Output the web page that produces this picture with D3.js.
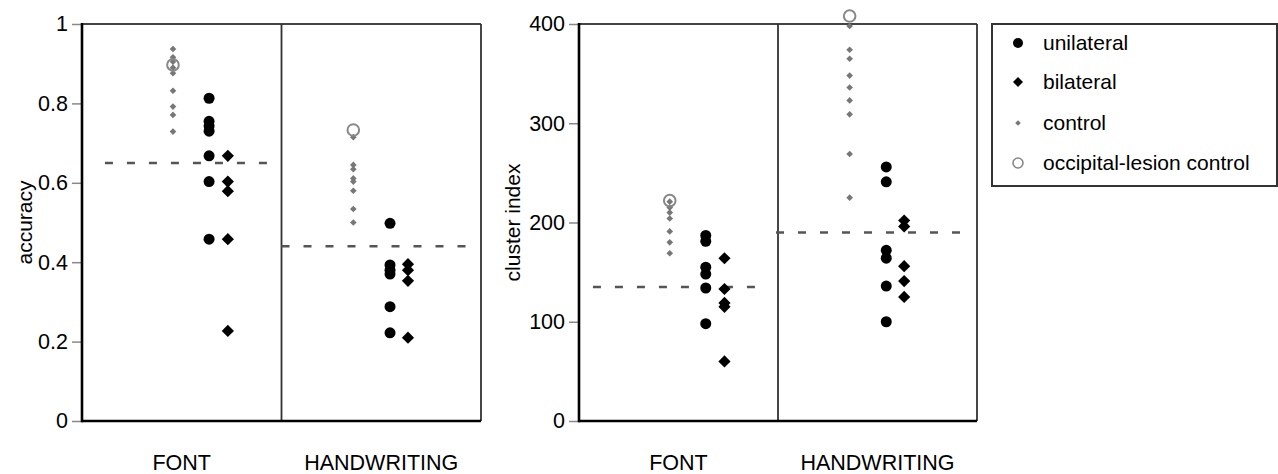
<!DOCTYPE html>
<html>
<head>
<meta charset="utf-8">
<script src="https://cdn.jsdelivr.net/npm/d3@7"></script>
<style>
  body { margin: 0; background: #fff; }
  svg { display: block; font-family: "Liberation Sans", Arial, Helvetica, sans-serif; }
</style>
</head>
<body>
<svg id="chart" width="1278" height="474"></svg>
<script>
// Data
const categories = ["FONT", "HANDWRITING"];
const groups = ["unilateral", "bilateral", "control", "occipital-lesion control"];

// accuracy panel
const accFontUni = [0.813, 0.755, 0.743, 0.73, 0.668, 0.603, 0.458];
const accFontBi = [0.668, 0.603, 0.579, 0.458, 0.227];
const accFontCtrl = [0.937, 0.916, 0.905, 0.89, 0.876, 0.832, 0.792, 0.771, 0.729];
const accFontOcc = [0.897];
const accHandUni = [0.498, 0.393, 0.38, 0.37, 0.288, 0.222];
const accHandBi = [0.395, 0.38, 0.353, 0.21];
const accHandCtrl = [0.715, 0.645, 0.634, 0.611, 0.603, 0.58, 0.534, 0.5];
const accHandOcc = [0.733];
const accCutoff = [0.65, 0.44];
const accTicks = [0, 0.2, 0.4, 0.6, 0.8, 1];
const accTickLabels = ["0", "0.2", "0.4", "0.6", "0.8", "1"];

// cluster index panel
const clFontUni = [187, 181, 155, 148, 134, 98];
const clFontBi = [164, 133, 119, 115, 60];
const clFontCtrl = [221, 215, 210, 204, 191, 180, 169];
const clFontOcc = [222];
const clHandUni = [256, 241, 172, 164, 136, 100];
const clHandBi = [202, 196, 156, 141, 125];
const clHandCtrl = [398, 374, 365, 348, 336, 323, 309, 269, 225];
const clHandOcc = [408];
const clCutoff = [135, 190];
const clTicks = [0, 100, 200, 300, 400];
const clTickLabels = ["0", "100", "200", "300", "400"];

// column positions (x units: 0..2 across a panel, divider at 1)
const colPos = {
  FONT: { control: 0.456, unilateral: 0.637, bilateral: 0.731 },
  HANDWRITING: { control: 1.36, unilateral: 1.544, bilateral: 1.634 }
};
const catCenters = [0.5, 1.5];

const panels = [
  {
    left: 82, right: 481, title: "accuracy", titleX: 25,
    domain: [0, 1], ticks: accTicks, tickLabels: accTickLabels,
    cutoff: accCutoff, cutoffSpan: [[0.115, 0.93], [1.0, 1.93]],
    data: {
      FONT: { unilateral: accFontUni, bilateral: accFontBi, control: accFontCtrl, occ: accFontOcc },
      HANDWRITING: { unilateral: accHandUni, bilateral: accHandBi, control: accHandCtrl, occ: accHandOcc }
    }
  },
  {
    left: 579, right: 977, title: "cluster index", titleX: 513,
    domain: [0, 400], ticks: clTicks, tickLabels: clTickLabels,
    cutoff: clCutoff, cutoffSpan: [[0.07, 0.925], [0.99, 1.93]],
    data: {
      FONT: { unilateral: clFontUni, bilateral: clFontBi, control: clFontCtrl, occ: clFontOcc },
      HANDWRITING: { unilateral: clHandUni, bilateral: clHandBi, control: clHandCtrl, occ: clHandOcc }
    }
  }
];

const plotTop = 24, plotBottom = 421;
const svg = d3.select("#chart");

const diamondBig = d3.symbol().type(d3.symbolDiamond2).size(95);
const diamondSmall = d3.symbol().type(d3.symbolDiamond2).size(28);

panels.forEach((p) => {
  const x = d3.scaleLinear().domain([0, 2]).range([p.left, p.right]);
  const y = d3.scaleLinear().domain(p.domain).range([plotBottom, plotTop]);
  const g = svg.append("g");

  // frame
  g.append("line").attr("x1", x(0)).attr("x2", x(2)).attr("y1", plotTop).attr("y2", plotTop)
    .attr("stroke", "#444").attr("stroke-width", 2);
  g.append("line").attr("x1", x(2)).attr("x2", x(2)).attr("y1", plotTop).attr("y2", plotBottom)
    .attr("stroke", "#333").attr("stroke-width", 1.8);
  g.append("line").attr("x1", x(1)).attr("x2", x(1)).attr("y1", plotTop).attr("y2", plotBottom)
    .attr("stroke", "#333").attr("stroke-width", 1.8);

  // y axis
  const axis = g.append("g")
    .attr("transform", `translate(${p.left},0)`)
    .call(d3.axisLeft(y).tickValues(p.ticks).tickSize(10).tickPadding(4)
      .tickFormat((d, i) => p.tickLabels[i]));
  axis.select(".domain").remove();
  axis.selectAll(".tick line").attr("stroke", "#888").attr("stroke-width", 1.5);
  axis.selectAll(".tick text").attr("font-size", 21.5).attr("fill", "#000")
    .attr("font-family", "Liberation Sans, Arial, sans-serif");

  g.append("line").attr("x1", x(0)).attr("x2", x(0)).attr("y1", plotTop - 1).attr("y2", plotBottom + 1.2)
    .attr("stroke", "#000").attr("stroke-width", 2.6);
  g.append("line").attr("x1", x(0)).attr("x2", x(2)).attr("y1", plotBottom).attr("y2", plotBottom)
    .attr("stroke", "#000").attr("stroke-width", 2.6);

  // axis title
  g.append("text")
    .attr("transform", `translate(${p.titleX},${(plotTop + plotBottom) / 2}) rotate(-90)`)
    .attr("text-anchor", "middle").attr("dy", "0.35em")
    .attr("font-size", 21).attr("fill", "#000")
    .text(p.title);

  // category labels
  categories.forEach((c, i) => {
    g.append("text").attr("x", x(catCenters[i])).attr("y", 470)
      .attr("text-anchor", "middle").attr("font-size", 21.5).attr("fill", "#000")
      .text(c);
  });

  // cutoff lines
  p.cutoff.forEach((v, i) => {
    g.append("line")
      .attr("x1", x(p.cutoffSpan[i][0])).attr("x2", x(p.cutoffSpan[i][1]))
      .attr("y1", y(v)).attr("y2", y(v))
      .attr("stroke", "#555").attr("stroke-width", 2.6)
      .attr("stroke-dasharray", "8,14");
  });

  // points
  categories.forEach((c) => {
    const d = p.data[c];
    const pos = colPos[c];
    g.append("g").selectAll("path").data(d.control).join("path")
      .attr("d", diamondSmall)
      .attr("transform", (v) => `translate(${x(pos.control)},${y(v)})`)
      .attr("fill", "#777");
    g.append("g").selectAll("circle").data(d.occ).join("circle")
      .attr("cx", x(pos.control)).attr("cy", (v) => y(v)).attr("r", 5.8)
      .attr("fill", "none").attr("stroke", "#888").attr("stroke-width", 2);
    g.append("g").selectAll("circle").data(d.unilateral).join("circle")
      .attr("cx", x(pos.unilateral)).attr("cy", (v) => y(v)).attr("r", 5.5)
      .attr("fill", "#000");
    g.append("g").selectAll("path").data(d.bilateral).join("path")
      .attr("d", diamondBig)
      .attr("transform", (v) => `translate(${x(pos.bilateral)},${y(v)})`)
      .attr("fill", "#000");
  });
});

// Legend
const legend = svg.append("g").attr("transform", "translate(992,24)");
legend.append("rect").attr("x", 0).attr("y", 0).attr("width", 285).attr("height", 162)
  .attr("fill", "#fff").attr("stroke", "#333").attr("stroke-width", 2);
const rowY = [19, 58, 99, 139];
groups.forEach((name, i) => {
  const row = legend.append("g").attr("transform", `translate(26,${rowY[i]})`);
  if (i === 0) row.append("circle").attr("r", 5).attr("fill", "#000");
  if (i === 1) row.append("path").attr("d", d3.symbol().type(d3.symbolDiamond2).size(64)).attr("fill", "#000");
  if (i === 2) row.append("path").attr("d", d3.symbol().type(d3.symbolDiamond2).size(20)).attr("fill", "#777");
  if (i === 3) row.append("circle").attr("r", 5).attr("fill", "none").attr("stroke", "#888").attr("stroke-width", 1.6);
  legend.append("text").attr("x", 51).attr("y", rowY[i]).attr("dy", "0.33em")
    .attr("font-size", 21).attr("fill", "#000").text(name);
});
</script>
</body>
</html>
